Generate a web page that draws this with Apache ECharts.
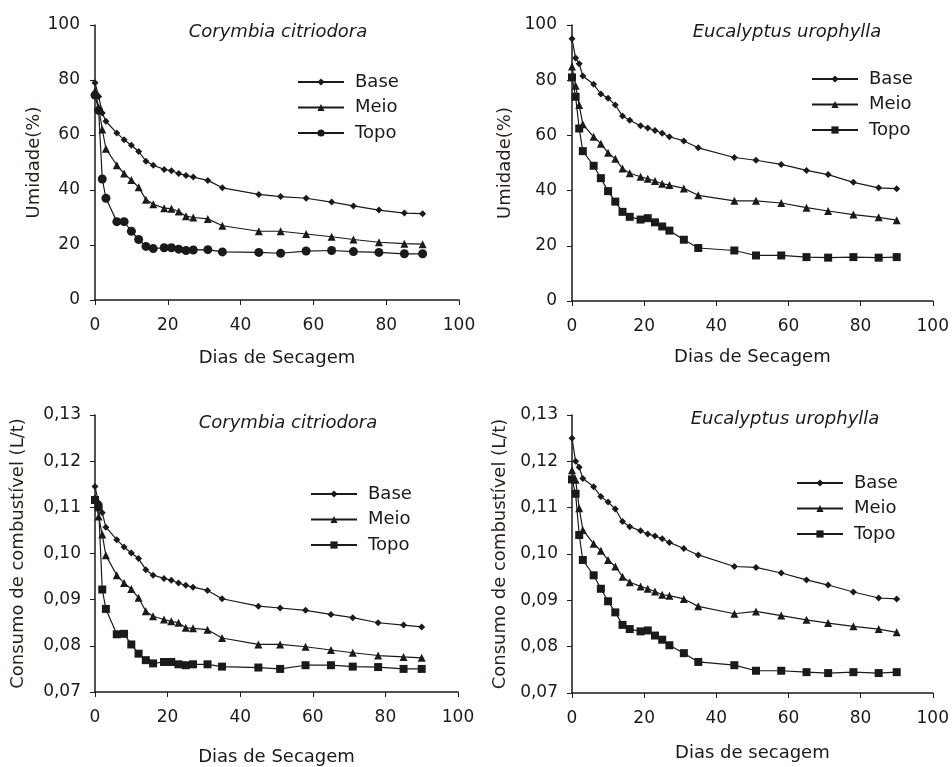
<!DOCTYPE html>
<html>
<head>
<meta charset="utf-8">
<title>Umidade e consumo de combustível</title>
<script src="https://cdn.jsdelivr.net/npm/echarts@6/dist/echarts.min.js"></script>
<style>
  html, body { margin: 0; padding: 0; background: #fff; }
  #chart { width: 952px; height: 767px; }
</style>
</head>
<body>
<div id="chart"></div>
<script>
// dias de secagem (comuns a todos os painéis)
var dias = [0, 1, 2, 3, 6, 8, 10, 12, 14, 16, 19, 21, 23, 25, 27, 31, 35, 45, 51, 58, 65, 71, 78, 85, 90];
var xTicks = [0, 20, 40, 60, 80, 100];

// Umidade (%) - Corymbia citriodora
var umCcBase = [79, 74, 68, 65, 60.7, 58.3, 56.3, 54, 50.5, 49, 47.5, 47, 46, 45.3, 44.7, 43.5, 40.8, 38.4, 37.6, 37, 35.6, 34.2, 32.7, 31.6, 31.4];
var umCcMeio = [76, 70, 62, 55, 49, 46, 43.6, 41, 36.5, 34.8, 33.4, 33.2, 32.2, 30.5, 30, 29.5, 27, 25, 25, 24, 23, 22, 21, 20.5, 20.3];
var umCcTopo = [74.5, 69, 44, 37, 28.5, 28.5, 25, 22, 19.5, 18.7, 19, 19, 18.5, 18, 18.2, 18.3, 17.5, 17.3, 17, 17.8, 18, 17.6, 17.3, 16.8, 16.8];

// Umidade (%) - Eucalyptus urophylla
var umEuBase = [95, 88, 86, 81.5, 78.5, 75, 73.5, 71, 67, 65.5, 63.5, 62.7, 61.8, 60.8, 59.5, 58, 55.5, 52, 51, 49.5, 47.3, 45.8, 43, 41, 40.7];
var umEuMeio = [85, 78, 71, 64, 59.5, 57, 53.7, 51.5, 48, 46.3, 45, 44.3, 43.5, 42.5, 42, 40.8, 38.3, 36.3, 36.3, 35.5, 33.8, 32.6, 31.3, 30.3, 29.3];
var umEuTopo = [81, 74, 62.5, 54.3, 49, 44.5, 39.8, 36, 32.3, 30.5, 29.5, 30, 28.5, 27, 25.5, 22.2, 19.2, 18.3, 16.5, 16.5, 15.9, 15.7, 15.9, 15.7, 15.9];

// Consumo de combustível (L/t) - Corymbia citriodora
var coCcBase = [0.1145, 0.111, 0.1088, 0.1057, 0.1030, 0.1014, 0.1001, 0.0989, 0.0965, 0.0953, 0.0946, 0.0942, 0.0936, 0.0931, 0.0927, 0.0920, 0.0902, 0.0886, 0.0882, 0.0877, 0.0868, 0.0861, 0.0850, 0.0845, 0.0841];
var coCcMeio = [0.1120, 0.1080, 0.1041, 0.0996, 0.0953, 0.0936, 0.0923, 0.0904, 0.0875, 0.0864, 0.0857, 0.0853, 0.0850, 0.0839, 0.0838, 0.0835, 0.0817, 0.0803, 0.0803, 0.0798, 0.0791, 0.0785, 0.0779, 0.0776, 0.0774];
var coCcTopo = [0.1116, 0.1100, 0.0922, 0.0880, 0.0825, 0.0826, 0.0803, 0.0783, 0.0769, 0.0762, 0.0765, 0.0765, 0.0760, 0.0758, 0.0760, 0.0760, 0.0755, 0.0753, 0.0750, 0.0758, 0.0758, 0.0755, 0.0754, 0.0750, 0.0750];

// Consumo de combustível (L/t) - Eucalyptus urophylla
var coEuBase = [0.1250, 0.1200, 0.1187, 0.1163, 0.1145, 0.1124, 0.1112, 0.1097, 0.1070, 0.1059, 0.1050, 0.1043, 0.1039, 0.1033, 0.1025, 0.1012, 0.0998, 0.0973, 0.0971, 0.0959, 0.0944, 0.0933, 0.0918, 0.0905, 0.0903];
var coEuMeio = [0.1181, 0.1160, 0.1099, 0.1052, 0.1022, 0.1007, 0.0987, 0.0973, 0.0951, 0.0939, 0.0930, 0.0925, 0.0919, 0.0912, 0.0910, 0.0903, 0.0887, 0.0871, 0.0876, 0.0867, 0.0858, 0.0851, 0.0844, 0.0838, 0.0831];
var coEuTopo = [0.1161, 0.1130, 0.1041, 0.0987, 0.0954, 0.0925, 0.0898, 0.0874, 0.0847, 0.0838, 0.0833, 0.0835, 0.0824, 0.0815, 0.0803, 0.0786, 0.0767, 0.0760, 0.0748, 0.0748, 0.0745, 0.0743, 0.0745, 0.0743, 0.0745];

var ink = '#1a1a1a';
var font = 'DejaVu Sans, Arial, sans-serif';

var chart = echarts.init(document.getElementById('chart'));

function pares(ys) {
  return dias.map(function (d, i) { return [d, ys[i]]; });
}

function serie(nome, idx, ys, symbol, size) {
  return {
    name: nome + idx,
    type: 'line',
    xAxisIndex: idx,
    yAxisIndex: idx,
    data: pares(ys),
    symbol: symbol,
    symbolSize: size,
    lineStyle: { color: ink, width: 1.2 },
    itemStyle: { color: ink },
    animation: false
  };
}

// painéis: posição da grade
var paineis = [
  { left: 95, top: 25, width: 364, height: 275 },
  { left: 572, top: 25, width: 362, height: 276 },
  { left: 95, top: 415, width: 363, height: 278 },
  { left: 572, top: 415, width: 363, height: 278 }
];

var eixoBase = {
  axisLine: { show: true, lineStyle: { color: ink, width: 1.5 } },
  axisTick: { show: true, length: 5, lineStyle: { color: ink } },
  splitLine: { show: false }
};

function xEixo(idx, nome, gap) {
  return Object.assign({}, eixoBase, {
    type: 'value', gridIndex: idx, min: 0, max: 100, interval: 20,
    name: nome, nameLocation: 'middle', nameGap: gap,
    nameTextStyle: { color: ink, fontSize: 18, fontFamily: font },
    axisLabel: { color: ink, fontSize: 17, fontFamily: font, margin: 17 }
  });
}

function yEixo(idx, nome, gap, consumo) {
  return Object.assign({}, eixoBase, {
    type: 'value', gridIndex: idx,
    min: consumo ? 0.07 : 0, max: consumo ? 0.13 : 100, interval: consumo ? 0.01 : 20,
    name: nome, nameLocation: 'middle', nameGap: gap,
    nameTextStyle: { color: '#2a1f1a', fontSize: 18, fontFamily: font },
    axisLabel: {
      color: ink, fontSize: 17, fontFamily: font, margin: consumo ? 14 : 15,
      formatter: function (v) { return consumo ? v.toFixed(2).replace('.', ',') : String(Math.round(v)); }
    }
  });
}

function titulo(texto, x, y) {
  return {
    text: texto, left: x, top: y, textAlign: 'center',
    textStyle: { color: ink, fontSize: 18, fontStyle: 'italic', fontWeight: 'normal', fontFamily: font }
  };
}

function legenda(idx, x, y) {
  return {
    data: ['Base' + idx, 'Meio' + idx, 'Topo' + idx],
    orient: 'vertical', left: x, top: y,
    itemWidth: 46, itemHeight: 9, itemGap: 7.5,
    selectedMode: false,
    formatter: function (n) { return n.replace(/\d/, ''); },
    textStyle: { color: ink, fontSize: 18, fontFamily: font, padding: [0, 0, 0, 6] }
  };
}

var option = {
  backgroundColor: '#fff',
  animation: false,
  title: [
    titulo('Corymbia citriodora', 273, 18),
    titulo('Eucalyptus urophylla', 782, 18),
    titulo('Corymbia citriodora', 283, 409),
    titulo('Eucalyptus urophylla', 780, 405)
  ],
  legend: [
    legenda(0, 292, 68),
    legenda(1, 806, 65),
    legenda(2, 305, 480),
    legenda(3, 791, 469)
  ],
  grid: paineis.map(function (p) { return Object.assign({ containLabel: false }, p); }),
  xAxis: [
    xEixo(0, 'Dias de Secagem', 49),
    xEixo(1, 'Dias de Secagem', 47),
    xEixo(2, 'Dias de Secagem', 56),
    xEixo(3, 'Dias de secagem', 51)
  ],
  yAxis: [
    yEixo(0, 'Umidade(%)', 51, false),
    yEixo(1, 'Umidade(%)', 58, false),
    yEixo(2, 'Consumo de combustível (L/t)', 68, true),
    yEixo(3, 'Consumo de combustível (L/t)', 63, true)
  ],
  series: [
    serie('Base', 0, umCcBase, 'diamond', 7),
    serie('Meio', 0, umCcMeio, 'triangle', 8),
    serie('Topo', 0, umCcTopo, 'circle', 9),
    serie('Base', 1, umEuBase, 'diamond', 7),
    serie('Meio', 1, umEuMeio, 'triangle', 8),
    serie('Topo', 1, umEuTopo, 'rect', 8),
    serie('Base', 2, coCcBase, 'diamond', 7),
    serie('Meio', 2, coCcMeio, 'triangle', 8),
    serie('Topo', 2, coCcTopo, 'rect', 8),
    serie('Base', 3, coEuBase, 'diamond', 7),
    serie('Meio', 3, coEuMeio, 'triangle', 8),
    serie('Topo', 3, coEuTopo, 'rect', 8)
  ]
};

chart.setOption(option);
</script>
</body>
</html>
